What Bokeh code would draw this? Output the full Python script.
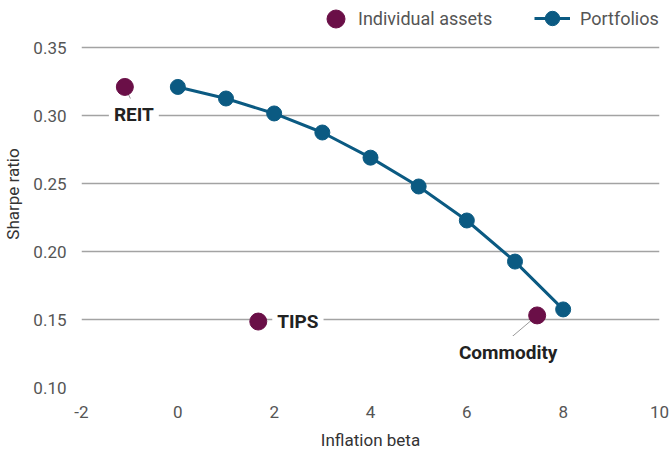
from bokeh.plotting import figure
from bokeh.models import ColumnDataSource, Legend, LegendItem, Label, NumeralTickFormatter, FixedTicker, Range1d
from bokeh.embed import file_html
from bokeh.resources import INLINE

# Portfolios
port_beta = [0, 1, 2, 3, 4, 5, 6, 7, 8]
port_sharpe = [0.321, 0.3125, 0.3015, 0.2875, 0.269, 0.2478, 0.2228, 0.1926, 0.1574]

# Individual assets
asset_names = ["REIT", "TIPS", "Commodity"]
asset_beta = [-1.1, 1.67, 7.46]
asset_sharpe = [0.321, 0.1485, 0.153]

x_ticks = [-2, 0, 2, 4, 6, 8, 10]
y_ticks = [0.10, 0.15, 0.20, 0.25, 0.30, 0.35]

FONT = "Roboto"
BLUE = "#0B5A82"
PURPLE = "#6A0F47"
GRID = "#A3A3A3"

# y range extends above 0.35 to leave room for the legend inside the frame
p = figure(width=669, height=453, output_backend="svg", toolbar_location=None,
           x_range=Range1d(-2, 10), y_range=Range1d(0.10, 0.38456),
           min_border_left=81, min_border_right=10, min_border_top=0, min_border_bottom=66)
p.outline_line_color = None
p.xgrid.grid_line_color = None
p.ygrid.grid_line_color = GRID
p.ygrid.grid_line_width = 1.5

for ax in (p.xaxis, p.yaxis):
    ax.axis_line_color = None
    ax.major_tick_line_color = None
    ax.minor_tick_line_color = None
    ax.major_label_text_font = FONT
    ax.major_label_text_font_size = "17px"
    ax.major_label_text_color = "#555555"
    ax.axis_label_text_font = FONT
    ax.axis_label_text_font_size = "17px"
    ax.axis_label_text_font_style = "normal"
    ax.axis_label_text_color = "#333333"

p.xaxis.ticker = FixedTicker(ticks=x_ticks)
p.yaxis.ticker = FixedTicker(ticks=y_ticks)
p.yaxis.formatter = NumeralTickFormatter(format="0.00")
p.xaxis.major_label_overrides = {-2: "-2"}
p.xaxis.axis_label = "Inflation beta"
p.yaxis.axis_label = "Sharpe ratio"
p.xaxis.major_label_standoff = 12
p.yaxis.major_label_standoff = 9
p.xaxis.axis_label_standoff = 9
p.yaxis.axis_label_standoff = 7

# leader lines (drawn below points)
a = ColumnDataSource(dict(x=asset_beta, y=asset_sharpe, name=asset_names))
p.segment(x0=[asset_beta[0]], y0=[asset_sharpe[0]], x1=[asset_beta[0] + 0.17], y1=[asset_sharpe[0] - 0.0125],
          line_color="#999999", line_width=1)
p.segment(x0=[asset_beta[2]], y0=[asset_sharpe[2]], x1=[asset_beta[2] - 0.65], y1=[asset_sharpe[2] - 0.0195],
          line_color="#999999", line_width=1)

src = ColumnDataSource(dict(x=port_beta, y=port_sharpe))
pl = p.line("x", "y", source=src, line_color=BLUE, line_width=3)
ps = p.scatter("x", "y", source=src, size=15, fill_color=BLUE, line_color=BLUE)

asc = p.scatter("x", "y", source=a, size=17, fill_color=PURPLE, line_color=PURPLE)

label_offsets = [(9, -28, "center"), (14, 0, "left"), (-29, -37, "center")]
for name, bx, sy, (dx, dy, align) in zip(asset_names, asset_beta, asset_sharpe, label_offsets):
    p.add_layout(Label(x=bx, y=sy, x_offset=dx, y_offset=dy, text=name,
                       text_font=FONT, text_font_size="19px", text_font_style="bold",
                       text_color="#222222", text_align=align, text_baseline="middle",
                       background_fill_color="white", background_fill_alpha=1.0,
                       padding=5))

common = dict(orientation="horizontal", padding=0, margin=0,
              border_line_color=None, background_fill_alpha=0,
              label_text_font=FONT, label_text_font_size="18px", label_text_color="#555555")
leg1 = Legend(items=[LegendItem(label="Individual assets", renderers=[asc])],
              location=(232, 346), glyph_width=45, glyph_height=45, label_standoff=-6, **common)
leg2 = Legend(items=[LegendItem(label="Portfolios", renderers=[pl, ps])],
              location=(453, 350), glyph_width=36, glyph_height=38, label_standoff=10, **common)
p.add_layout(leg1, "center")
p.add_layout(leg2, "center")

open("out.html", "w").write(file_html(p, INLINE))
